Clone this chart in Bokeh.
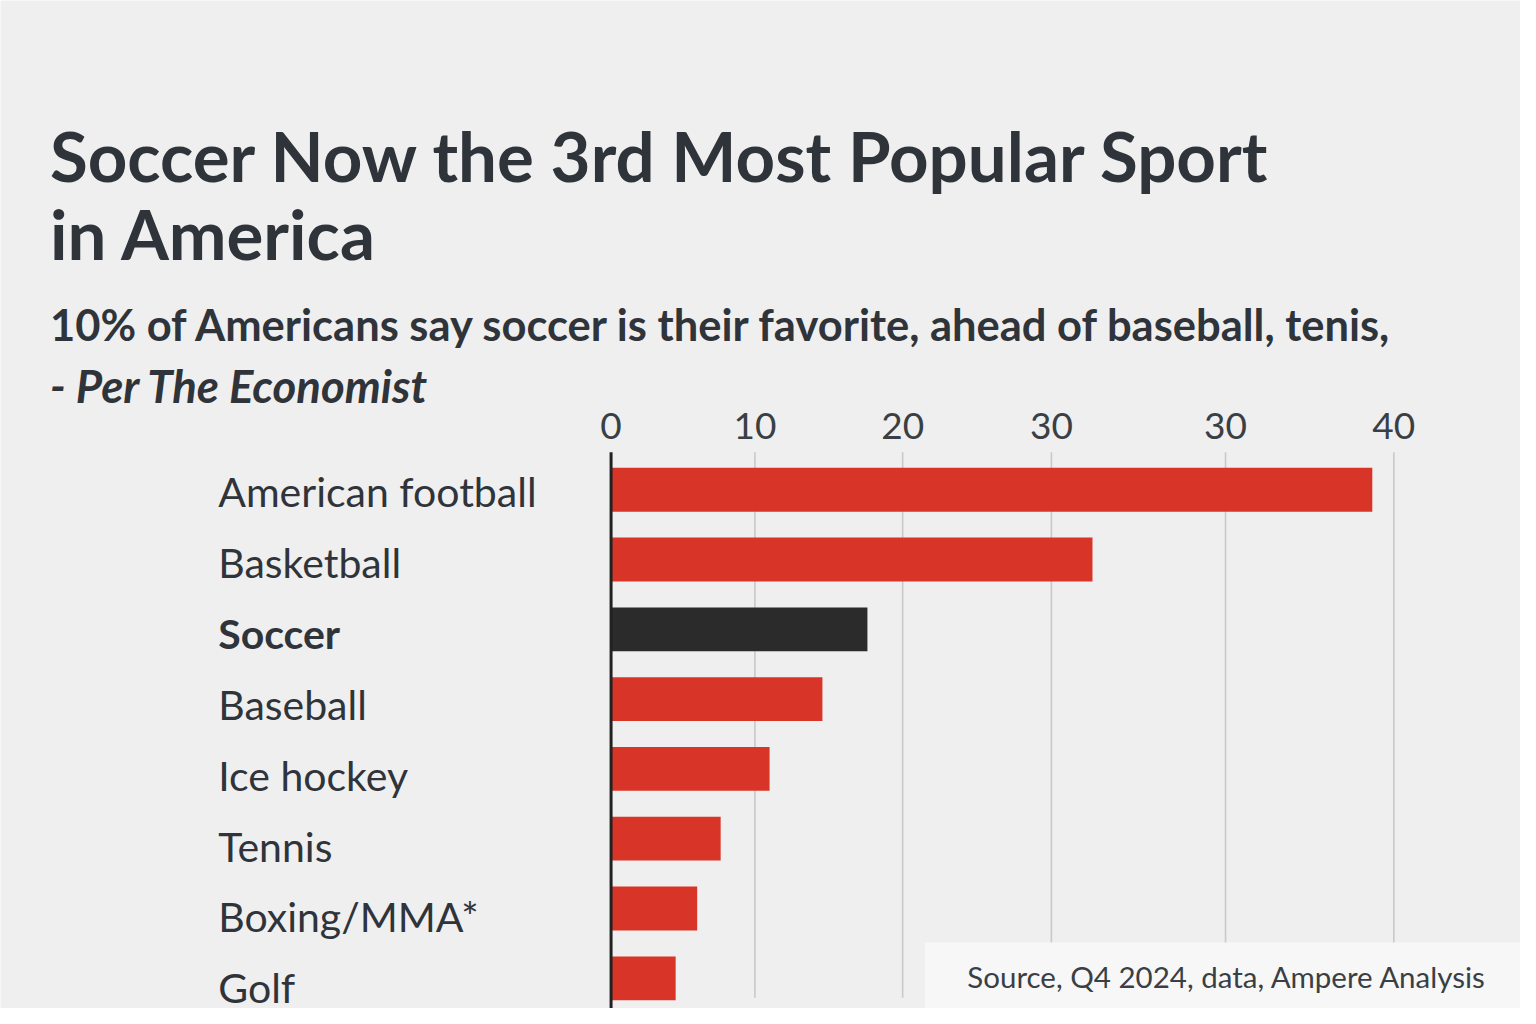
from bokeh.plotting import figure
from bokeh.models import Range1d, Label, BoxAnnotation, ColumnDataSource
from bokeh.core.properties import value
from bokeh.embed import file_html
from bokeh.resources import INLINE

# ---------------- data ----------------
categories = ["American football", "Basketball", "Soccer", "Baseball",
              "Ice hockey", "Tennis", "Boxing/MMA*", "Golf"]
shares = [38.9, 24.6, 13.1, 10.8, 8.1, 5.6, 4.4, 3.3]
highlight = "Soccer"
tick_positions = [0, 7.35, 14.9, 22.5, 31.4, 40]
tick_labels = ["0", "10", "20", "30", "30", "40"]

title_line1 = "Soccer Now the 3rd Most Popular Sport"
title_line2 = "in America"
subtitle = "10% of Americans say soccer is their favorite, ahead of baseball, tenis,"
attribution = "- Per The Economist"
source_note = "Source, Q4 2024, data, Ampere Analysis"

# ---------------- layout / style ----------------
W, H = 1520, 1008
sx, sy = W / 1536, H / 1024          # design grid is 1536 x 1024


def X(v):
    return v * sx


def Y(v):
    return v * sy


def YB(v):  # screen y measured from the bottom of the canvas
    return H - Y(v)


BG = "#efefef"
RED = "#d93428"
DARK = "#2b2b2b"
TXT = "#2f343b"
FONT = "Lato"

zero_px = X(617)
px_per_unit = (X(1408) - X(617)) / 40
row0_px = Y(497)
row_px = Y(70.9)

x_start = -zero_px / px_per_unit
x_end = x_start + W / px_per_unit
y_top = -row0_px / row_px
y_bottom = (H - row0_px) / row_px

idx = list(range(len(categories)))
colors = [DARK if c == highlight else RED for c in categories]
styles = ["bold" if c == highlight else "normal" for c in categories]
label_dy = [Y(2 + 1.1 * i) for i in idx]

src = ColumnDataSource(dict(y=idx, v=shares, cat=categories, color=colors,
                            fstyle=styles, dy=label_dy, zero=[0] * len(idx)))

p = figure(width=W, height=H, output_backend="svg", toolbar_location=None,
           x_range=Range1d(x_start, x_end), y_range=Range1d(y_bottom, y_top),
           x_axis_location=None, y_axis_location=None, min_border=0,
           background_fill_color=BG, border_fill_color=BG, outline_line_color=None)
p.xgrid.visible = False
p.ygrid.visible = False

axis_top = (Y(459) - row0_px) / row_px
grid_bottom = (Y(1013) - row0_px) / row_px

# gridlines (0 is drawn as the axis line)
gt = [t for t in tick_positions if t != 0]
p.segment(x0=gt, y0=[axis_top] * len(gt), x1=gt, y1=[grid_bottom] * len(gt),
          line_color="#c9c9cc", line_width=1.6)

# bars
p.hbar(y="y", left="zero", right="v", height=Y(44.5) / row_px, color="color",
       line_color=None, source=src)

# zero axis line
p.segment(x0=[0], y0=[axis_top], x1=[0], y1=[y_bottom], line_color="#222222",
          line_width=3)

# tick labels (top)
p.text(x=tick_positions, y=[axis_top] * len(tick_positions), text=tick_labels,
       text_font=value(FONT), text_font_size="37px", text_color="#3a3f45",
       text_align="center", text_baseline="middle", y_offset=-(Y(459) - Y(432)))

# category labels
p.text(x="zero", y="y", text="cat", source=src, x_offset=X(220) - zero_px,
       y_offset="dy", text_font=value(FONT), text_font_size="41px",
       text_color=TXT, text_font_style="fstyle", text_align="left",
       text_baseline="middle")


def add_text(txt, x, y, size, style="normal", color=TXT):
    p.add_layout(Label(x=X(x), y=YB(y), x_units="screen", y_units="screen",
                       text=txt, text_font=FONT, text_font_size=size,
                       text_font_style=style, text_color=color,
                       text_baseline="middle", text_align="left"))


add_text(title_line1, 50, 157, "69px", "bold")
add_text(title_line2, 50, 237, "69px", "bold")
add_text(subtitle, 50, 329, "43.5px", "bold")
add_text(attribution, 50, 391, "45.5px", "bold italic")

# source box
p.add_layout(BoxAnnotation(left=X(934), right=W, bottom=0, top=YB(957),
                           left_units="screen", right_units="screen",
                           bottom_units="screen", top_units="screen",
                           fill_color="#f7f7f7", fill_alpha=1.0, line_color=None))
add_text(source_note, 977, 991, "29.5px", "normal", "#3a3f45")

open("out.html", "w").write(file_html(p, INLINE))
